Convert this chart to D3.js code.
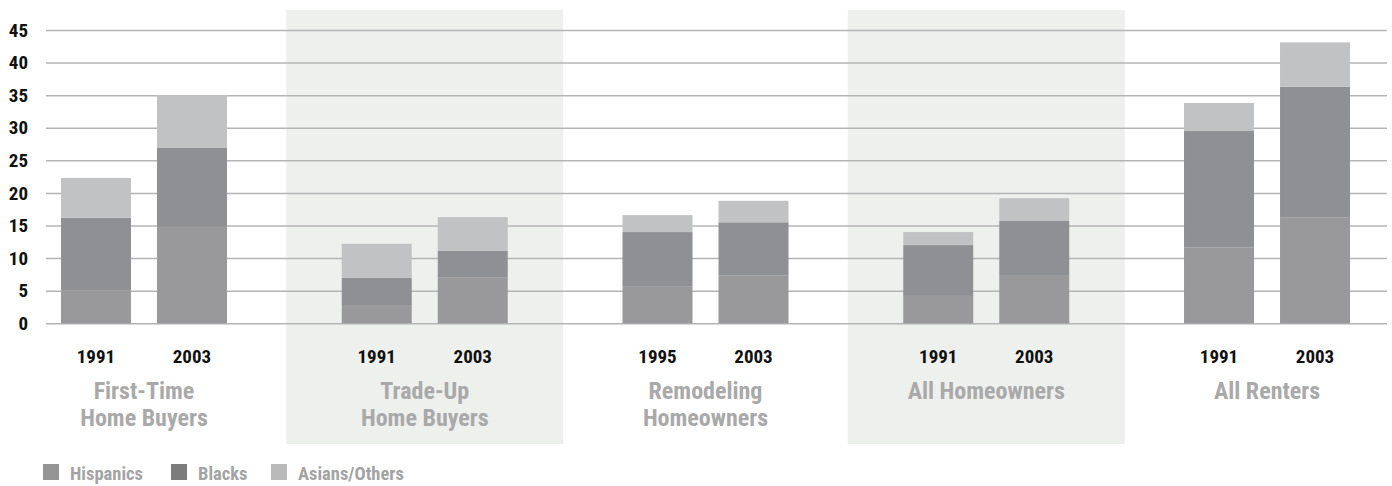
<!DOCTYPE html>
<html>
<head>
<meta charset="utf-8">
<script src="https://cdn.jsdelivr.net/npm/d3@7"></script>
<style>
body{margin:0;background:#fff;}
svg{display:block;}
text{font-family:"Liberation Sans Narrow","Roboto Condensed","DejaVu Sans Condensed",sans-serif;font-weight:bold;}
.axis-y .domain{display:none;}
.axis-y line{stroke:#b4b4b6;stroke-width:1.5;}
.axis-y text{fill:#111;font-size:19px;}
.year{fill:#111;font-size:19px;}
.group-label{fill:#a9a9a9;font-size:24px;}
.legend text{fill:#a3a3a3;font-size:18.5px;}
</style>
</head>
<body>
<div id="plot"></div>
<script>
//Data
var groups = ['First-Time Home Buyers','Trade-Up Home Buyers','Remodeling Homeowners','All Homeowners','All Renters'];
var groupLines = [['First-Time','Home Buyers'],['Trade-Up','Home Buyers'],['Remodeling','Homeowners'],['All Homeowners'],['All Renters']];
var years = [['1991','2003'],['1991','2003'],['1995','2003'],['1991','2003'],['1991','2003']];
var series = ['Hispanics','Blacks','Asians/Others'];
//values per group: [first year, second year]
var hispanics = [[5.0,14.8],[2.8,7.0],[5.7,7.3],[4.2,7.4],[11.6,16.2]];
var blacks    = [[11.2,12.1],[4.2,4.1],[8.3,8.2],[7.8,8.3],[17.9,20.1]];
var asians    = [[6.1,8.1],[5.2,5.2],[2.6,3.3],[2.0,3.5],[4.3,6.8]];
var yTicks = [0,5,10,15,20,25,30,35,40,45];

var W = 1392, H = 486;
var m = {t:30, l:46, r:5};
var y0 = 323.3;

var svg = d3.select('#plot').append('svg')
	.attr('width',W).attr('height',H);

//Scales
var scaleX = d3.scaleBand().domain(groups).range([3.6,1407.4]).padding(0);
var scaleInner = d3.scaleBand().domain([0,1]).range([-83,83]).paddingInner(0.271).paddingOuter(0);
var scaleY = d3.scaleLinear().domain([0,45]).range([y0,m.t]);
var colors = {'Hispanics':'#99999c','Blacks':'#8f9093','Asians/Others':'#c1c2c4'};
var legendColors = {'Hispanics':'#959595','Blacks':'#7c7c7c','Asians/Others':'#b9b9b9'};

//Shaded panels behind groups 2 and 4
svg.selectAll('.panel')
	.data(groups.filter(function(d,i){return i%2===1}))
	.enter()
	.append('rect').attr('class','panel')
	.attr('x',function(d){return scaleX(d)+scaleX.bandwidth()/2-138.5})
	.attr('width',277)
	.attr('y',10)
	.attr('height',434)
	.attr('fill','#eef0ee');

//Gridlines and y labels
var yAxis = d3.axisLeft(scaleY)
	.tickValues(yTicks)
	.tickSize(-(W - m.l - m.r))
	.tickPadding(18);
svg.append('g').attr('class','axis-y')
	.attr('transform','translate('+m.l+',0)')
	.call(yAxis);

//Stack the data
var rows = [];
groups.forEach(function(g,i){
	[0,1].forEach(function(j){
		rows.push({group:g, gi:i, idx:j, year:years[i][j],
			'Hispanics':hispanics[i][j], 'Blacks':blacks[i][j], 'Asians/Others':asians[i][j]});
	});
});
var stacked = d3.stack().keys(series)(rows);

var barX = function(d){return scaleX(d.data.group)+scaleX.bandwidth()/2+scaleInner(d.data.idx)};

svg.append('g').attr('class','bars')
	.selectAll('.layer')
	.data(stacked)
	.enter()
	.append('g').attr('class','layer')
	.attr('fill',function(d){return colors[d.key]})
	.selectAll('rect')
	.data(function(d){return d})
	.enter()
	.append('rect')
	.attr('x',barX)
	.attr('width',scaleInner.bandwidth())
	.attr('y',function(d){return scaleY(d[1])})
	.attr('height',function(d){return scaleY(d[0])-scaleY(d[1])});

//Year labels
svg.selectAll('.year')
	.data(rows)
	.enter()
	.append('text').attr('class','year')
	.attr('text-anchor','middle')
	.attr('x',function(d){return scaleX(d.group)+scaleX.bandwidth()/2+scaleInner(d.idx)+scaleInner.bandwidth()/2})
	.attr('y',363)
	.text(function(d){return d.year});

//Group labels
var gl = svg.selectAll('.group-label')
	.data(groups)
	.enter()
	.append('text').attr('class','group-label')
	.attr('text-anchor','middle')
	.attr('y',399);
gl.selectAll('tspan')
	.data(function(d,i){return groupLines[i].map(function(t){return {t:t, x:scaleX(d)+scaleX.bandwidth()/2}})})
	.enter()
	.append('tspan')
	.attr('x',function(d){return d.x})
	.attr('dy',function(d,i){return i===0?0:27})
	.text(function(d){return d.t});

//Legend
var legendX = [43,171,271];
var legend = svg.append('g').attr('class','legend')
	.selectAll('g')
	.data(series)
	.enter()
	.append('g')
	.attr('transform',function(d,i){return 'translate('+legendX[i]+',464)'});
legend.append('rect')
	.attr('width',16).attr('height',16)
	.attr('fill',function(d){return legendColors[d]});
legend.append('text')
	.attr('x',27).attr('y',15.5)
	.text(function(d){return d});
</script>
</body>
</html>
